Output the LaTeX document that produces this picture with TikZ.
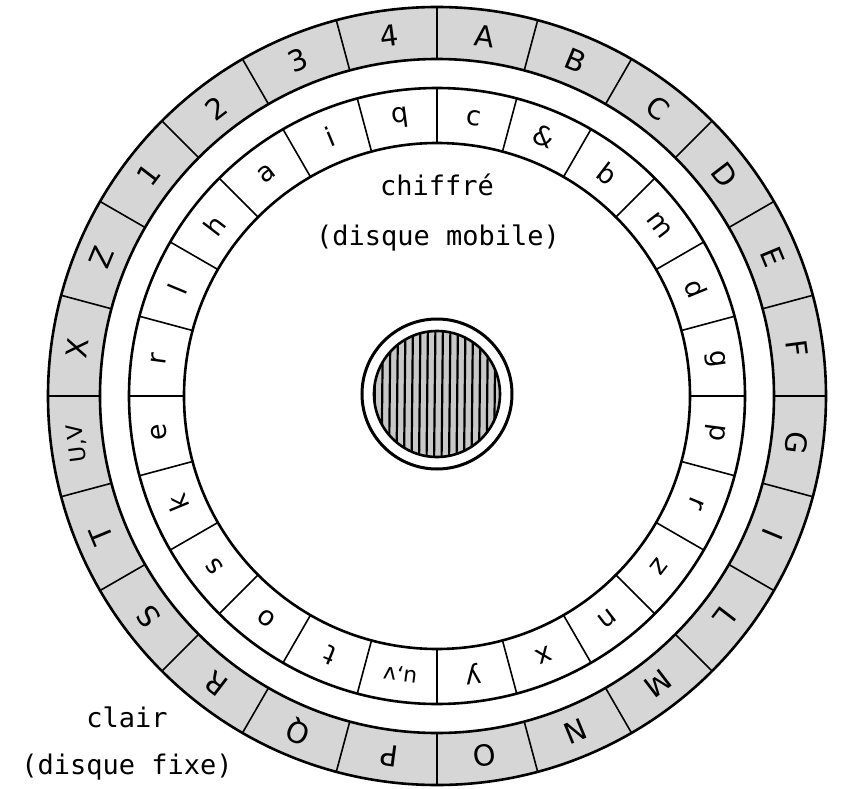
\documentclass[tikz,border=0pt]{standalone}
\usepackage{fontspec}
\setmainfont{DejaVu Sans}
\newfontfamily\labelfont{DejaVu Sans Mono}
\definecolor{ringgray}{RGB}{214,214,214}
\definecolor{hubgray}{RGB}{200,200,200}
\tikzset{
  bigring/.style={line width=2.6pt},
  divider/.style={line width=1.6pt},
  outerletter/.style={inner sep=0pt, font=\fontsize{29}{30}\selectfont},
  innerletter/.style={inner sep=0pt, font=\fontsize{27}{28}\selectfont},
  caption/.style={inner sep=0pt, anchor=base, font=\labelfont\fontsize{27}{30}\selectfont},
}
\begin{document}
\begin{tikzpicture}[x=1pt,y=1pt]
\useasboundingbox (-437,-392) rectangle (409,396);
\fill[white] (-437,-392) rectangle (409,396);
% outer (fixed) ring
\fill[ringgray, even odd rule] (0,0) circle (389) (0,0) circle (337);
\draw[bigring] (0,0) circle (389);
\draw[bigring] (0,0) circle (337);
\foreach \k in {0,...,23} \draw[divider] (90+15*\k:337) -- (90+15*\k:389);
% inner (mobile) ring
\draw[bigring] (0,0) circle (308);
\draw[bigring] (0,0) circle (253);
\foreach \k in {0,...,23} \draw[divider] (90+15*\k:253) -- (90+15*\k:308);
% outer letters
\foreach \t [count=\i from 0] in {A,B,C,D,E,F,G,I,L,M,N,O,P,Q,R,S,T,{\fontsize{22}{24}\selectfont U,V},X,Z,1,2,3,4}
  \node[outerletter, rotate=-7.5-15*\i] (o\i) at (82.5-15*\i:363) {\t};
% inner letters
\foreach \t [count=\i from 0] in {c,\&,b,m,d,g,p,r,z,n,x,y,{\fontsize{22}{24}\selectfont u,v},t,o,s,k,e,r,l,h,a,i,q}
  \node[innerletter, rotate=-7.5-15*\i] (n\i) at (82.5-15*\i:280.5) {\t};
% hub
\begin{scope}
  \clip (0,2) circle (63);
  \fill[hubgray] (-70,-70) rectangle (70,75);
  \foreach \x in {-63,-55.5,...,64} \draw[line width=2.2pt] (\x,-70) -- (\x+1.5,75);
\end{scope}
\draw[line width=2.6pt] (0,2) circle (63);
\draw[line width=3pt] (0,2) circle (75);
% captions
\node[caption] (chiffre) at (0,201) {chiffré};
\node[caption] (mobile) at (1,151) {(disque mobile)};
\node[caption] (clair) at (-310,-331) {clair};
\node[caption] (fixe) at (-310,-378) {(disque fixe)};
\end{tikzpicture}
\end{document}
